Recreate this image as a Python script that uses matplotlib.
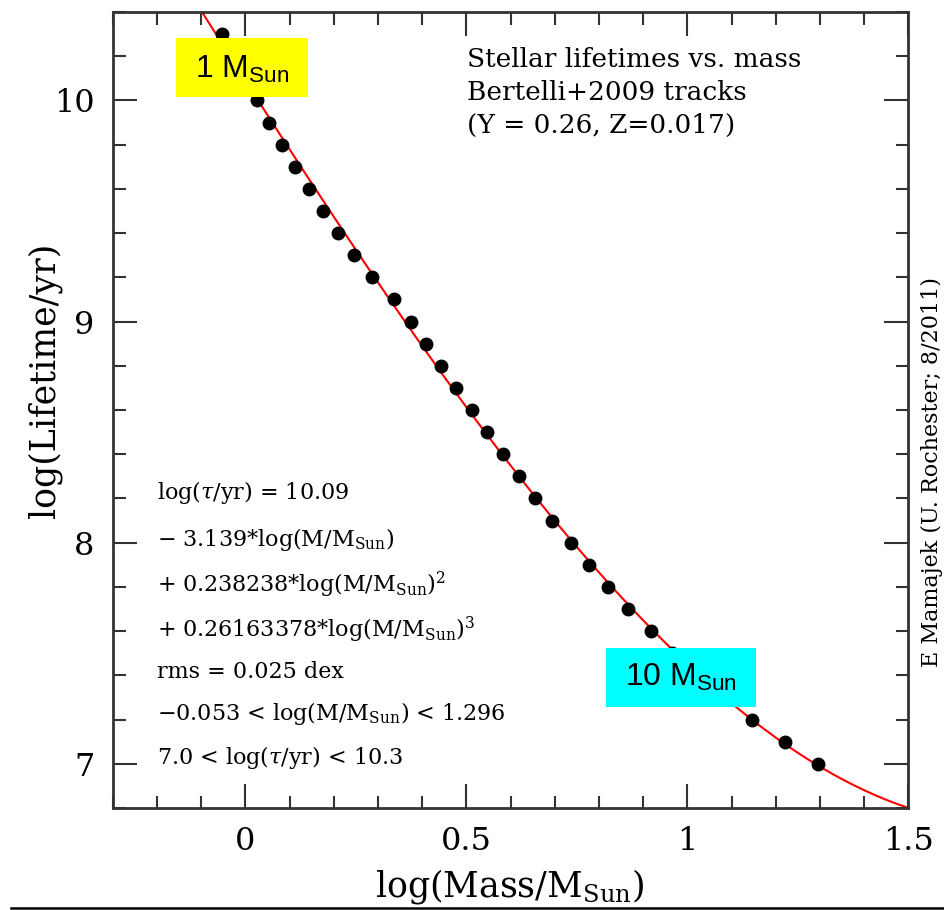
import numpy as np
import matplotlib.pyplot as plt
from matplotlib.patches import Rectangle
from matplotlib.ticker import MultipleLocator

# Bertelli+2009 track lifetimes: log(M/Msun) for each log(tau/yr) step
log_tau = [10.3, 10.0, 9.9, 9.8, 9.7, 9.6, 9.5, 9.4, 9.3, 9.2, 9.1, 9.0,
           8.9, 8.8, 8.7, 8.6, 8.5, 8.4, 8.3, 8.2, 8.1, 8.0, 7.9, 7.8,
           7.7, 7.6, 7.5, 7.4, 7.3, 7.2, 7.1, 7.0]
log_mass = [-0.053, 0.027, 0.054, 0.083, 0.113, 0.143, 0.176, 0.209,
            0.246, 0.286, 0.336, 0.374, 0.409, 0.443, 0.476, 0.512,
            0.546, 0.583, 0.620, 0.655, 0.694, 0.736, 0.777, 0.820,
            0.866, 0.917, 0.965, 1.020, 1.080, 1.146, 1.221, 1.296]

# cubic fit, lowest order first
fit_coeffs = [10.09, -3.139, 0.238238, 0.26163378]

x_ticks = [0, 0.5, 1, 1.5]
x_ticklabels = ['0', '0.5', '1', '1.5']
y_ticks = [7, 8, 9, 10]
y_ticklabels = ['7', '8', '9', '10']

serif = 'DejaVu Serif'
W, H = 945, 910

fig = plt.figure(figsize=(W / 100, H / 100), dpi=100)
ax = fig.add_axes([112.8 / W, 1 - 808 / H, 795.6 / W, 796 / H])

xx = np.linspace(-0.3, 1.5, 400)
yy = sum(c * xx ** i for i, c in enumerate(fit_coeffs))
ax.plot(xx, yy, color='#ff0000', lw=1.5, zorder=2)
ax.plot(log_mass, log_tau, 'o', color='black', ms=9, zorder=3)

ax.set_xlim(-0.3, 1.5)
ax.set_ylim(6.8, 10.4)
ax.set_xticks(x_ticks)
ax.set_xticklabels(x_ticklabels)
ax.set_yticks(y_ticks)
ax.set_yticklabels(y_ticklabels)
ax.xaxis.set_minor_locator(MultipleLocator(0.1))
ax.yaxis.set_minor_locator(MultipleLocator(0.2))
ax.tick_params(which='both', direction='in', top=True, right=True,
               width=1.5, color='#333333', labelsize=23, pad=13)
ax.tick_params(which='major', length=17)
ax.tick_params(which='minor', length=9)
for lab in ax.get_xticklabels() + ax.get_yticklabels():
    lab.set_family(serif)
for sp in ax.spines.values():
    sp.set_linewidth(2)
    sp.set_color('#333333')

fig.text(510 / W, 1 - 886 / H, r'log(Mass/M$_{\rm Sun}$)', family=serif,
         fontsize=25, ha='center', va='center', math_fontfamily='dejavuserif')
fig.text(45 / W, 1 - 380 / H, 'log(Lifetime/yr)', family=serif,
         fontsize=25, rotation=90, ha='center', va='center')
fig.text(932 / W, 1 - 472 / H, 'E Mamajek (U. Rochester; 8/2011)',
         family=serif, fontsize=16, rotation=90, ha='center', va='center')

# title block, top right
for i, line in enumerate(['Stellar lifetimes vs. mass',
                          'Bertelli+2009 tracks',
                          '(Y = 0.26, Z=0.017)']):
    ax.text(0.445, 0.940 - i * 0.041, line, transform=ax.transAxes,
            family=serif, fontsize=19, va='center')

# fit description, lower left
fit_lines = [r'log($\tau$/yr) = 10.09',
             r'$-$ 3.139*log(M/M$_{\rm Sun}$)',
             r'+ 0.238238*log(M/M$_{\rm Sun}$)$^2$',
             r'+ 0.26163378*log(M/M$_{\rm Sun}$)$^3$',
             'rms = 0.025 dex',
             r'$-$0.053 < log(M/M$_{\rm Sun}$) < 1.296',
             r'7.0 < log($\tau$/yr) < 10.3']
fit_y = [0.396, 0.337, 0.280, 0.224, 0.171, 0.119, 0.064]
for line, y in zip(fit_lines, fit_y):
    ax.text(0.0558, y, line, transform=ax.transAxes, family=serif,
            fontsize=16, va='center', math_fontfamily='dejavuserif')

# highlighted mass labels
plt.rcParams['mathtext.fontset'] = 'custom'
plt.rcParams['mathtext.rm'] = 'Liberation Sans'
ax.add_patch(Rectangle((-0.157, 10.017), 0.299, 0.267, facecolor='#ffff00',
                       edgecolor='none', zorder=4))
ax.text(-0.0075, 10.14, r'1 M$_{\rm Sun}$', family='Liberation Sans',
        fontsize=23, ha='center', va='center', zorder=5,
        math_fontfamily='custom')
ax.add_patch(Rectangle((0.816, 7.255), 0.339, 0.267, facecolor='#00ffff',
                       edgecolor='none', zorder=4))
ax.text(0.985, 7.39, r'10 M$_{\rm Sun}$', family='Liberation Sans',
        fontsize=23, ha='center', va='center', zorder=5,
        math_fontfamily='custom')

fig.add_artist(plt.Line2D([0.012, 1.0], [0.002, 0.002], color='black',
                          lw=1.8, transform=fig.transFigure))

fig.savefig('out.png', dpi=100)
